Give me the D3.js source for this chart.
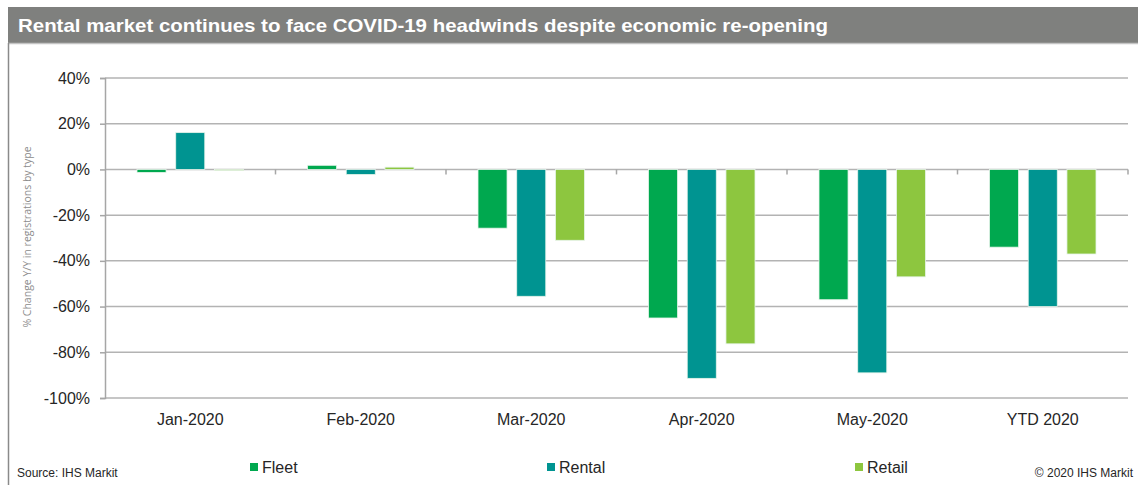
<!DOCTYPE html>
<html lang="en">
<head>
<meta charset="UTF-8">
<title>Rental market</title>
<script src="https://cdn.jsdelivr.net/npm/d3@7"></script>
<style>
  body { margin: 0; background: #fff; }
  svg { font-family: "Liberation Sans", Arial, sans-serif; display: block; }
</style>
</head>
<body>
<div class="chart"></div>
<script>
  const months = ['Jan-2020', 'Feb-2020', 'Mar-2020', 'Apr-2020', 'May-2020', 'YTD 2020'];
  const seriesNames = ['Fleet', 'Rental', 'Retail'];
  const fleet = [-1.3, 1.8, -25.7, -65, -57, -34];
  const rental = [16.1, -2.2, -55.5, -91.4, -89, -60];
  const retail = [-0.5, 1.0, -31, -76.3, -47, -37];
  const yTicks = [40, 20, 0, -20, -40, -60, -80, -100];
  const colors = ['#00a84f', '#009491', '#8dc63f'];

  const W = 1138, H = 485;
  const margin = {top: 78, right: 10, bottom: 87, left: 105};
  const width = W - margin.left - margin.right, height = H - margin.top - margin.bottom;

  const root = d3.select('.chart').append('svg').attr('width', W).attr('height', H);

  // title bar + frame
  root.append('rect').attr('x', 8).attr('y', 7).attr('width', W - 8).attr('height', 36).attr('fill', '#7f807e');
  root.append('line').attr('x1', 8).attr('x2', W).attr('y1', 43.5).attr('y2', 43.5).attr('stroke', '#c4c4c4').attr('stroke-width', 1.5);
  root.append('line').attr('x1', 8.5).attr('x2', 8.5).attr('y1', 43).attr('y2', H).attr('stroke', '#8a8a8a').attr('stroke-width', 1.5);
  root.append('text').attr('x', 18).attr('y', 32)
    .attr('fill', '#fff').attr('font-weight', 'bold').attr('font-size', 19)
    .attr('textLength', 810).attr('lengthAdjust', 'spacingAndGlyphs')
    .text('Rental market continues to face COVID-19 headwinds despite economic re-opening');

  const svg = root.append('g').attr('transform', `translate(${margin.left} ${margin.top})`);

  const x0 = d3.scaleBand().domain(months).range([0, width]);
  const x1 = d3.scaleBand().domain(seriesNames).range([32, x0.bandwidth() - 32]).paddingInner(0.25);
  const y = d3.scaleLinear().domain([-100, 40]).range([height, 0]);

  // gridlines
  svg.append('g').selectAll('line').data(yTicks).join('line')
    .attr('x1', 0).attr('x2', width)
    .attr('y1', d => y(d)).attr('y2', d => y(d))
    .attr('stroke', '#b3b3b3').attr('stroke-width', 1.5);

  // y axis
  const yAxis = svg.append('g').call(d3.axisLeft(y).tickValues(yTicks).tickSize(5).tickPadding(10).tickFormat(d => d + '%'));
  yAxis.select('.domain').attr('stroke', '#a6a6a6').attr('stroke-width', 1.5);
  yAxis.selectAll('.tick line').attr('stroke', '#a6a6a6').attr('stroke-width', 1.5);
  yAxis.selectAll('.tick text').attr('font-size', 16).attr('fill', '#262626').attr('font-family', '"Liberation Sans", Arial, sans-serif');

  // x axis ticks at band edges on zero line
  const bounds = months.map(m => x0(m)).concat([width]);
  svg.append('g').selectAll('line').data(bounds.slice(1)).join('line')
    .attr('x1', d => d).attr('x2', d => d)
    .attr('y1', y(0)).attr('y2', y(0) + 5)
    .attr('stroke', '#a6a6a6').attr('stroke-width', 1.5);

  svg.append('g').selectAll('text').data(months).join('text')
    .attr('x', d => x0(d) + x0.bandwidth() / 2).attr('y', height + 27)
    .attr('text-anchor', 'middle').attr('font-size', 16).attr('fill', '#262626')
    .text(d => d);

  // bars
  const data = months.map((m, i) => ({month: m, values: [fleet[i], rental[i], retail[i]]}));
  const groups = svg.selectAll('.grp').data(data).join('g').attr('class', 'grp')
    .attr('transform', d => `translate(${x0(d.month)} 0)`);
  groups.selectAll('rect')
    .data(d => d.values.map((v, k) => ({key: seriesNames[k], value: v, k})))
    .join('rect')
    .attr('x', d => x1(d.key))
    .attr('y', d => y(Math.max(0, d.value)))
    .attr('width', x1.bandwidth())
    .attr('height', d => Math.abs(y(d.value) - y(0)))
    .attr('fill', d => colors[d.k])
    .attr('stroke', '#e6f4ea').attr('stroke-width', 0.8);

  // y axis title
  root.append('text')
    .attr('transform', 'translate(31 237) rotate(-90)')
    .attr('text-anchor', 'middle').attr('font-size', 10.5).attr('fill', '#8c8c8c')
    .attr('font-family', '"Open Sans", "Noto Sans", sans-serif')
    .text('% Change Y/Y in registrations by type');

  // legend
  const legendX = [250, 547, 855];
  const legend = root.append('g').selectAll('g').data(seriesNames).join('g')
    .attr('transform', (d, i) => `translate(${legendX[i]} 463)`);
  legend.append('rect').attr('width', 8).attr('height', 8).attr('fill', (d, i) => colors[i]);
  legend.append('text').attr('x', 12).attr('y', 9.5).attr('font-size', 16).attr('fill', '#262626').text(d => d);

  // footer
  root.append('text').attr('x', 17).attr('y', 477).attr('font-size', 12).attr('fill', '#262626').text('Source: IHS Markit');
  root.append('text').attr('x', 1133).attr('y', 477).attr('text-anchor', 'end').attr('font-size', 12).attr('fill', '#262626').text('\u00a9 2020 IHS Markit');
</script>
</body>
</html>
